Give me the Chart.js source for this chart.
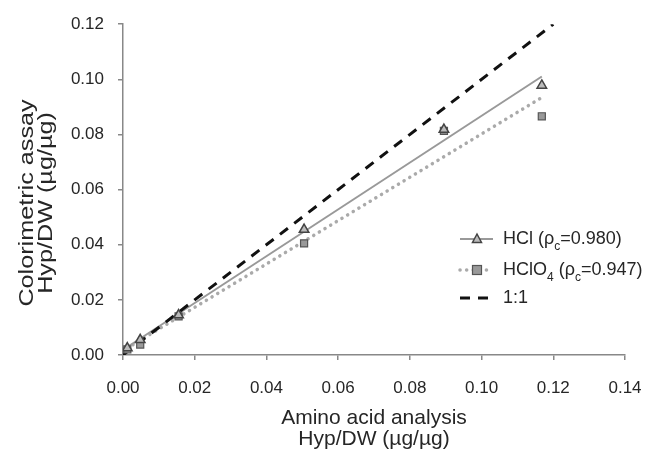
<!DOCTYPE html>
<html>
<head>
<meta charset="utf-8">
<script src="https://cdn.jsdelivr.net/npm/chart.js@4.4.1/dist/chart.umd.min.js"></script>
<style>
  html, body { margin: 0; padding: 0; background: #fff; }
  #wrap { width: 646px; height: 450px; }
</style>
</head>
<body>
<div id="wrap"><canvas id="chart" width="646" height="450"></canvas></div>
<script>
// values
const aminoAcid = [0.0012, 0.0048, 0.0155, 0.0505, 0.0895, 0.1168];
const hclValues = [0.0025, 0.0055, 0.0145, 0.0455, 0.0818, 0.0978];
const hclo4Values = [0.0020, 0.0038, 0.0140, 0.0405, 0.0813, 0.0866];
const xTicks = [0, 0.02, 0.04, 0.06, 0.08, 0.10, 0.12, 0.14];
const yTicks = [0, 0.02, 0.04, 0.06, 0.08, 0.10, 0.12];
const identityRange = [0, 0.12];
const yTitle = ['Colorimetric assay', 'Hyp/DW (µg/µg)'];
const xTitle = ['Amino acid analysis', 'Hyp/DW (µg/µg)'];

const FONT = '"Liberation Sans", Arial, sans-serif';
const TEXT = '#262626';

function toPoints(xs, ys) {
    return xs.map((x, i) => ({ x: x, y: ys[i] }));
}

// least squares fit, drawn over the range of the data
function fitLine(xs, ys) {
    const n = xs.length;
    const mx = xs.reduce((a, b) => a + b, 0) / n;
    const my = ys.reduce((a, b) => a + b, 0) / n;
    let sxy = 0, sxx = 0;
    xs.forEach((x, i) => {
        sxy += (x - mx) * (ys[i] - my);
        sxx += (x - mx) * (x - mx);
    });
    const slope = sxy / sxx;
    const b = my - slope * mx;
    const x0 = Math.min(...xs), x1 = Math.max(...xs);
    return [{ x: x0, y: b + slope * x0 }, { x: x1, y: b + slope * x1 }];
}

// legend with subscripts, drawn on the canvas
const legendItems = [
    { parts: [['HCl (ρ', 0], ['c', 1], ['=0.980)', 0]], line: { color: '#999', width: 2, dash: [] }, marker: 'triangle' },
    { parts: [['HClO', 0], ['4', 1], [' (ρ', 0], ['c', 1], ['=0.947)', 0]], line: { color: '#aaa', width: 3.5, dash: [0.1, 6.5], cap: 'round' }, marker: 'square' },
    { parts: [['1:1', 0]], line: { color: '#111', width: 3, dash: [10, 8] }, marker: null }
];

const subLegend = {
    id: 'subLegend',
    afterDraw(chart) {
        const ctx = chart.ctx;
        const x0 = 460, rowY = [239, 270, 298];
        ctx.save();
        legendItems.forEach((item, i) => {
            const y = rowY[i];
            ctx.beginPath();
            ctx.strokeStyle = item.line.color;
            ctx.lineWidth = item.line.width;
            ctx.lineCap = item.line.cap || 'butt';
            ctx.setLineDash(item.line.dash);
            ctx.moveTo(x0, y);
            ctx.lineTo(x0 + 33, y);
            ctx.stroke();
            ctx.setLineDash([]);
            const mx = x0 + 17;
            if (item.marker === 'triangle') {
                ctx.beginPath();
                ctx.moveTo(mx, y - 5);
                ctx.lineTo(mx + 4.5, y + 3.5);
                ctx.lineTo(mx - 4.5, y + 3.5);
                ctx.closePath();
                ctx.fillStyle = '#bbb';
                ctx.fill();
                ctx.lineWidth = 1.5;
                ctx.strokeStyle = '#444';
                ctx.stroke();
            } else if (item.marker === 'square') {
                ctx.fillStyle = '#999';
                ctx.fillRect(mx - 4.5, y - 4.5, 9, 9);
                ctx.lineWidth = 1.2;
                ctx.strokeStyle = '#555';
                ctx.strokeRect(mx - 4.5, y - 4.5, 9, 9);
            }
            let tx = 503;
            ctx.fillStyle = TEXT;
            ctx.textBaseline = 'middle';
            item.parts.forEach(([txt, sub]) => {
                ctx.font = (sub ? '12px ' : '18px ') + FONT;
                ctx.fillText(txt, tx, sub ? y + 8 : y);
                tx += ctx.measureText(txt).width;
            });
        });
        ctx.restore();
    }
};

// the y title in the source is drawn a bit stretched along its length
const yTitleDraw = {
    id: 'yTitleDraw',
    afterDraw(chart) {
        const ctx = chart.ctx;
        const baselines = [33, 52];
        const cy = 203;
        ctx.save();
        ctx.fillStyle = TEXT;
        ctx.font = '21px ' + FONT;
        ctx.textAlign = 'center';
        ctx.textBaseline = 'alphabetic';
        yTitle.forEach((line, i) => {
            ctx.save();
            ctx.translate(baselines[i], cy);
            ctx.rotate(-Math.PI / 2);
            ctx.scale(1.2, 1);
            ctx.fillText(line, 0, 0);
            ctx.restore();
        });
        ctx.restore();
    }
};

const ctx = document.getElementById('chart').getContext('2d');
new Chart(ctx, {
    type: 'scatter',
    data: {
        datasets: [
            {
                label: 'HCl',
                data: toPoints(aminoAcid, hclValues),
                pointStyle: 'triangle',
                pointRadius: 5.5,
                backgroundColor: '#bbb',
                borderColor: '#444',
                borderWidth: 1.5,
                order: 0
            },
            {
                label: 'HClO4',
                data: toPoints(aminoAcid, hclo4Values),
                pointStyle: 'rect',
                pointRadius: 5,
                backgroundColor: '#999',
                borderColor: '#555',
                borderWidth: 1.2,
                order: 1
            },
            {
                label: 'HCl fit',
                data: fitLine(aminoAcid, hclValues),
                showLine: true,
                pointRadius: 0,
                borderColor: '#999',
                borderWidth: 2,
                order: 3
            },
            {
                label: 'HClO4 fit',
                data: fitLine(aminoAcid, hclo4Values),
                showLine: true,
                pointRadius: 0,
                borderColor: '#aaa',
                borderWidth: 3.5,
                borderDash: [0.1, 6.5],
                borderCapStyle: 'round',
                order: 4
            },
            {
                label: '1:1',
                data: identityRange.map(v => ({ x: v, y: v })),
                showLine: true,
                pointRadius: 0,
                borderColor: '#111',
                borderWidth: 3,
                borderDash: [10, 8],
                order: 2
            }
        ]
    },
    options: {
        responsive: false,
        animation: false,
        layout: { padding: { top: 24, right: 21, left: 0, bottom: 0 } },
        scales: {
            x: {
                type: 'linear',
                min: 0,
                max: 0.14,
                afterBuildTicks: scale => { scale.ticks = xTicks.map(v => ({ value: v })); },
                afterFit: scale => {
                    scale.height = 95;
                    scale.paddingLeft = 0;
                    scale.paddingRight = 0;
                },
                border: { color: '#888', width: 1.5 },
                grid: { drawOnChartArea: false, drawTicks: true, tickLength: 5, color: '#888', lineWidth: 1.5 },
                ticks: {
                    color: TEXT,
                    font: { family: FONT, size: 17 },
                    padding: 18,
                    maxRotation: 0,
                    callback: v => v.toFixed(2)
                },
                title: {
                    display: true,
                    text: xTitle,
                    color: TEXT,
                    font: { family: FONT, size: 21, lineHeight: 1.0 },
                    padding: { top: 0, bottom: 0 }
                }
            },
            y: {
                type: 'linear',
                min: 0,
                max: 0.12,
                afterBuildTicks: scale => { scale.ticks = yTicks.map(v => ({ value: v })); },
                afterFit: scale => { scale.width = 123; },
                border: { color: '#888', width: 1.5 },
                grid: { drawOnChartArea: false, drawTicks: true, tickLength: 5, color: '#888', lineWidth: 1.5 },
                ticks: {
                    color: TEXT,
                    font: { family: FONT, size: 17 },
                    padding: 14,
                    callback: v => v.toFixed(2)
                }
            }
        },
        plugins: {
            legend: { display: false },
            tooltip: { enabled: false }
        }
    },
    plugins: [subLegend, yTitleDraw]
});
</script>
</body>
</html>
